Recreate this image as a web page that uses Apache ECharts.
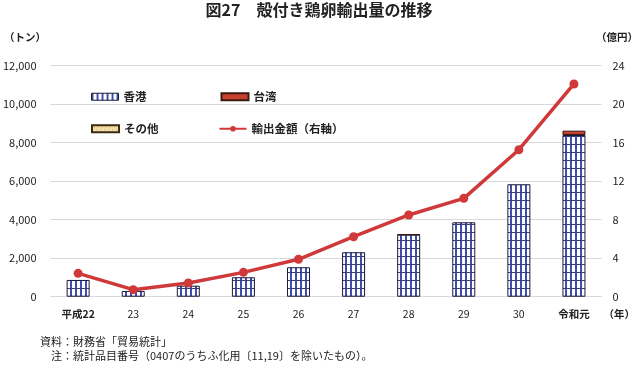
<!DOCTYPE html>
<html><head><meta charset="utf-8">
<script src="https://cdn.jsdelivr.net/npm/echarts@6/dist/echarts.min.js"></script>
<style>html,body{margin:0;padding:0;background:#fff}#c{width:638px;height:366px}</style>
</head><body><div id="c"></div>
<script>
const categories = ['平成22','23','24','25','26','27','28','29','30','令和元'];
const hongKong = [870, 300, 570, 1010, 1530, 2310, 3220, 3865, 5840, 8400];
const taiwan = [null, null, null, null, null, null, 20, null, null, 225];
const others = [null, null, null, null, null, null, null, null, null, null];
const exportValue = [2.43, 0.73, 1.42, 2.53, 3.89, 6.23, 8.49, 10.22, 15.27, 22.1];
const leftTicks = [0, 12000, 2000];
const rightTicks = [0, 24, 4];

function makePattern(kind){
  const c = document.createElement('canvas');
  const ctx = c.getContext('2d');
  if(kind==='hk'){
    c.width=5; c.height=8;
    ctx.fillStyle='#fff'; ctx.fillRect(0,0,5,8);
    ctx.fillStyle='#3f4db0'; ctx.fillRect(0,0,2,8);
    ctx.fillStyle='#3a3f7a'; ctx.fillRect(0,0,5,1);
  } else if(kind==='hkLegend'){
    c.width=5; c.height=8;
    ctx.fillStyle='#fff'; ctx.fillRect(0,0,5,8);
    ctx.fillStyle='#3f4db0'; ctx.fillRect(0,0,2,8);
  } else {
    c.width=4; c.height=4;
    ctx.fillStyle='#f6e2b0'; ctx.fillRect(0,0,4,4);
    ctx.fillStyle='#d6a64a'; ctx.fillRect(0,0,1,1); ctx.fillRect(2,2,1,1);
  }
  return {image:c, repeat:'repeat'};
}
const font = '"Noto Sans CJK JP", "Noto Sans", sans-serif';
const chart = echarts.init(document.getElementById('c'), null, {renderer:'canvas'});
chart.setOption({
  animation:false,
  textStyle:{fontFamily:font, color:'#222'},
  grid:{left:48, right:27, top:65.7, bottom:69.3, containLabel:false},
  legend:[
    {data:[{name:'香港', icon:'rect', itemStyle:{color:makePattern('hkLegend'), borderColor:'#1a1a3a', borderWidth:1}},
           {name:'台湾', icon:'rect'}], left:86, top:86, itemWidth:27, itemHeight:7, itemGap:74,
     textStyle:{fontSize:11.5, fontWeight:'bold', color:'#222', fontFamily:font}},
    {data:[{name:'その他', icon:'rect'},'輸出金額（右軸）'], left:86, top:118, itemWidth:27, itemHeight:7, itemGap:60,
     textStyle:{fontSize:11.5, fontWeight:'bold', color:'#222', fontFamily:font}}
  ],
  xAxis:{type:'category', data:categories, axisTick:{show:false},
    axisLine:{lineStyle:{color:'#d9d9d9'}},
    axisLabel:{interval:0, fontSize:10.5, color:'#222', margin:12, fontFamily:font,
      formatter:function(v){return (v==='平成22'||v==='令和元') ? '{b|'+v+'}' : v;},
      rich:{b:{fontWeight:'bold', fontSize:10.5, fontFamily:font, color:'#222'}}},
    name:'（年）', nameLocation:'end', nameGap:2,
    nameTextStyle:{fontSize:10.5, fontWeight:'bold', color:'#222', verticalAlign:'top', padding:[12,0,0,0]}},
  yAxis:[
    {type:'value', min:leftTicks[0], max:leftTicks[1], interval:leftTicks[2],
     axisLine:{show:false}, axisTick:{show:false},
     splitLine:{lineStyle:{color:'#d9d9d9'}},
     axisLabel:{fontSize:11, color:'#222', margin:14, fontFamily:font,
       formatter:function(v){return v.toLocaleString('en-US');}}},
    {type:'value', min:rightTicks[0], max:rightTicks[1], interval:rightTicks[2],
     axisLine:{show:false}, axisTick:{show:false}, splitLine:{show:false},
     axisLabel:{fontSize:11, color:'#222', margin:11, fontFamily:font}}
  ],
  series:[
    {name:'香港', type:'bar', stack:'t', data:hongKong, barWidth:23,
     itemStyle:{color:makePattern('hk'), borderColor:'#1a1a3a', borderWidth:1}},
    {name:'台湾', type:'bar', stack:'t', data:taiwan, barWidth:23,
     itemStyle:{color:'#c8402e', borderColor:'#3a1a10', borderWidth:1}},
    {name:'その他', type:'bar', stack:'t', data:others, barWidth:23,
     itemStyle:{color:makePattern('ot'), borderColor:'#3a2a10', borderWidth:1}},
    {name:'輸出金額（右軸）', type:'line', yAxisIndex:1, data:exportValue,
     symbol:'circle', symbolSize:9, lineStyle:{color:'#d0393a', width:3.5},
     itemStyle:{color:'#d0393a'}, z:5}
  ],
  graphic:[
    {type:'text', left:'center', top:2, style:{text:'図27　殻付き鶏卵輸出量の推移', font:'bold 16px '+font, fill:'#222'}},
    {type:'text', left:4, top:32, style:{text:'（トン）', font:'bold 10.5px '+font, fill:'#222'}},
    {type:'text', right:0, top:32, style:{text:'（億円）', font:'bold 10.5px '+font, fill:'#222'}},
    {type:'text', left:40, top:336, style:{text:'資料：財務省「貿易統計」', font:'11px '+font, fill:'#222'}},
    {type:'text', left:51, top:350, style:{text:'注：統計品目番号（0407のうちふ化用〔11,19〕を除いたもの）。', font:'11px '+font, fill:'#222'}}
  ]
});
</script></body></html>
